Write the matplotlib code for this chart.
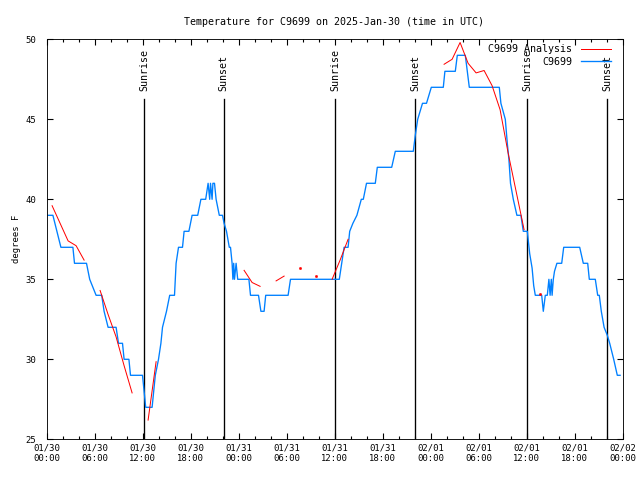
import numpy as np
import matplotlib
matplotlib.use("Agg")
import matplotlib.pyplot as plt
from matplotlib.ticker import MultipleLocator

plt.rcParams['font.family'] = ['DejaVu Sans Mono']
plt.rcParams['font.size'] = 8

# hours since 2025-01-30 00:00 UTC
obs_hours = [0.2, 0.8, 1.3, 1.8, 3.3, 3.5, 5.0, 5.4, 5.8, 6.2, 6.9, 7.2, 7.7, 8.7, 9.0, 9.5,
             9.7, 10.3, 10.5, 12.0, 12.2, 12.4, 13.2, 13.4, 13.6, 14.0, 14.3, 14.5, 15.0,
             15.4, 16.0, 16.1, 16.2, 16.5, 17.0, 17.2, 17.8, 18.2, 18.9, 19.3, 19.9, 20.2,
             20.4, 20.5, 20.7, 20.8, 21.0, 21.2, 21.6, 22.0, 22.2, 22.5, 22.85, 23.0, 23.2,
             23.3, 23.4, 23.5, 23.7, 23.9, 25.3, 25.5, 26.5, 26.8, 27.2, 27.4, 30.2, 30.5,
             36.6, 36.9, 37.2, 37.7, 37.9, 38.3, 38.8, 39.35, 39.6, 40.0, 41.1, 41.35, 43.15,
             43.6, 45.85, 46.1, 46.4, 46.7, 47.0, 47.5, 48.1, 49.6, 49.8, 51.1, 51.35, 52.35,
             52.6, 52.85, 56.6, 56.8, 57.35, 57.6, 57.8, 58.0, 58.35, 58.8, 59.3, 59.6, 60.1,
             60.4, 60.7, 60.9, 61.1, 61.9, 62.1, 62.35, 62.6, 62.8, 62.95, 63.1, 63.2, 63.35,
             63.5, 63.8, 64.4, 64.65, 66.65, 67.1, 67.65, 67.85, 68.6, 68.9, 69.1, 69.35,
             69.7, 70.1, 70.4, 70.9, 71.35, 71.7]
obs_temp = [39, 39, 38, 37, 37, 36, 36, 35, 34.5, 34, 34, 33, 32, 32, 31, 31,
            30, 30, 29, 29, 28, 27, 27, 28, 29, 30, 31, 32, 33,
            34, 34, 35, 36, 37, 37, 38, 38, 39, 39, 40, 40, 41,
            40, 41, 40, 41, 41, 40, 39, 39, 38.5, 38, 37, 37, 36,
            35, 36, 35, 36, 35, 35, 34, 34, 33, 33, 34, 34, 35,
            35, 36, 37, 37, 38, 38.5, 39, 40, 40, 41, 41, 42, 42,
            43, 43, 44, 45, 45.5, 46, 46, 47, 47, 48, 48, 49, 49,
            48, 47, 47, 46, 45, 43.5, 42.5, 41, 40, 39, 39, 38, 38,
            36.6, 35.7, 34.6, 34, 34, 33, 34, 34, 35, 34, 35, 34, 35,
            35.5, 36, 36, 37, 37, 36, 36, 35, 35, 34, 34, 33,
            32, 31.5, 31, 30, 29, 29]

nan = np.nan
ana_hours = [0.7, 1.7, 2.7, 3.7, 4.7, 5.7, 6.7, 7.7, 8.7, 9.7, 10.7, 11.7, 12.7, 13.7, 14.7,
             24.7, 25.7, 26.7, 27.7, 28.7, 29.7, 30.7, 31.7, 32.7, 33.7, 34.7, 35.7, 36.7,
             37.7, 38.7, 49.7, 50.7, 51.7, 52.7, 53.7, 54.7, 55.7, 56.7, 57.7, 58.7, 59.7,
             60.7, 61.7, 62.7]
ana_temp = [39.6, 38.5, 37.4, 37.1, 36.2, nan, 34.3, 32.8, 31.4, 29.6, 27.9, nan, 26.2, 29.85, nan,
            35.56, 34.8, 34.56, nan, 34.9, 35.2, nan, 35.7, nan, 35.2, nan, 35.0, 36.2,
            37.5, nan, 48.44, 48.75, 49.8, 48.5, 47.9, 48.05, 47.1, 45.6, 42.9, 40.5, 38.1,
            nan, 34.1, nan]

sun_hours = [12.2, 22.15, 36.1, 46.1, 60.1, 70.1]
sun_labels = ['Sunrise', 'Sunset', 'Sunrise', 'Sunset', 'Sunrise', 'Sunset']

tick_hours = list(range(0, 73, 6))
tick_labels = ['01/30\n00:00', '01/30\n06:00', '01/30\n12:00', '01/30\n18:00',
               '01/31\n00:00', '01/31\n06:00', '01/31\n12:00', '01/31\n18:00',
               '02/01\n00:00', '02/01\n06:00', '02/01\n12:00', '02/01\n18:00',
               '02/02\n00:00']

fig = plt.figure(figsize=(8, 6), dpi=80)
ax = fig.add_axes([46.5 / 640, 1 - 439.3 / 480, 576 / 640, 400 / 480])

for h, lab in zip(sun_hours, sun_labels):
    ax.plot([h, h], [25, 46.3], color='black', lw=1.2, zorder=1)
    ax.text(h, 46.75, lab, rotation=90, ha='center', va='bottom', fontsize=9)

ah = np.array(ana_hours)
at = np.array(ana_temp)
ax.plot(ah, at, color='#ff0000', lw=0.9, label='C9699 Analysis', zorder=3)
# lone hourly values have no neighbours to join, draw them as dots
prev_nan = np.isnan(np.r_[nan, at[:-1]])
next_nan = np.isnan(np.r_[at[1:], nan])
lone = prev_nan & next_nan & ~np.isnan(at)
ax.plot(ah[lone], at[lone], ls='none', marker='s', ms=1.3, color='#ff0000', zorder=3)

ax.plot(obs_hours, obs_temp, color='#0080ff', lw=1.2, label='C9699', zorder=2)

ax.set_xlim(0, 72)
ax.set_ylim(25, 50)
ax.set_xticks(tick_hours)
ax.set_xticklabels(tick_labels)
ax.xaxis.set_minor_locator(MultipleLocator(2))
ax.set_yticks(range(25, 51, 5))
ax.tick_params(which='both', direction='in', top=True, right=True, width=1)
ax.tick_params(which='major', length=5, pad=4)
ax.tick_params(which='minor', length=3)
ax.tick_params(axis='y', pad=9)

ax.set_ylabel('degrees F', labelpad=4)
ax.set_title('Temperature for C9699 on 2025-Jan-30 (time in UTC)', fontsize=9, pad=13)

leg = ax.legend(loc='upper right', bbox_to_anchor=(1 - 12 / 576, 1 - 5 / 400), frameon=False,
                markerfirst=False, handlelength=3.0, handletextpad=0.8, borderpad=0,
                borderaxespad=0, labelspacing=0.25, fontsize=9)

fig.savefig('out.png', dpi=80)
